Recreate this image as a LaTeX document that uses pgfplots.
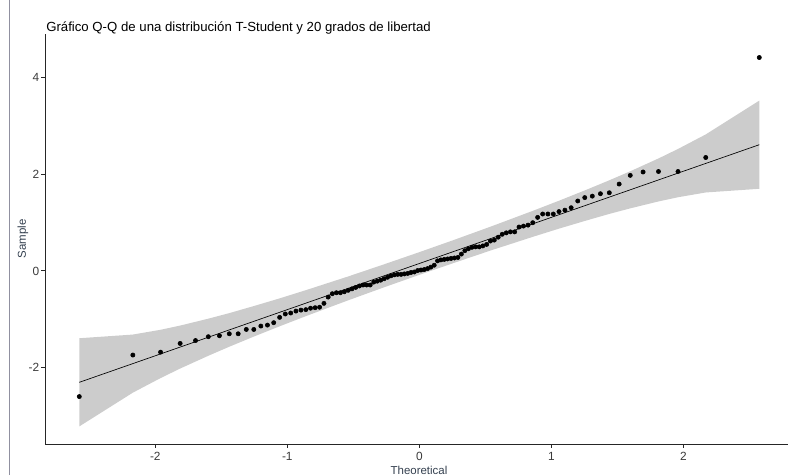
\documentclass[border=0pt]{standalone}
\usepackage{fontspec}
\setmainfont{Liberation Sans}
\usepackage{pgfplots}
\pgfplotsset{compat=1.18}
\usepackage{pgfplotstable}
\usepgfplotslibrary{fillbetween}
\definecolor{bandgray}{HTML}{CCCCCC}
\definecolor{ticktext}{HTML}{3A3A3A}
\definecolor{titletext}{HTML}{34404F}
\definecolor{edgeline}{HTML}{9090A0}

% sample quantiles against theoretical normal quantiles (n = 100)
\pgfplotstableread{
q y
-2.5758 -2.60
-2.1701 -1.74
-1.9600 -1.68
-1.8119 -1.50
-1.6954 -1.44
-1.5982 -1.36
-1.5141 -1.34
-1.4395 -1.30
-1.3722 -1.30
-1.3106 -1.21
-1.2536 -1.21
-1.2004 -1.14
-1.1503 -1.12
-1.1031 -1.07
-1.0581 -0.96
-1.0152 -0.89
-0.9741 -0.87
-0.9346 -0.83
-0.8965 -0.81
-0.8596 -0.80
-0.8239 -0.77
-0.7892 -0.76
-0.7554 -0.75
-0.7225 -0.67
-0.6903 -0.54
-0.6588 -0.47
-0.6280 -0.45
-0.5978 -0.45
-0.5681 -0.43
-0.5388 -0.40
-0.5101 -0.37
-0.4817 -0.34
-0.4538 -0.31
-0.4261 -0.29
-0.3989 -0.29
-0.3719 -0.29
-0.3451 -0.23
-0.3186 -0.21
-0.2924 -0.19
-0.2663 -0.16
-0.2404 -0.13
-0.2147 -0.10
-0.1891 -0.08
-0.1637 -0.07
-0.1383 -0.07
-0.1130 -0.06
-0.0878 -0.05
-0.0627 -0.03
-0.0376 -0.02
-0.0125 0.01
0.0125 0.02
0.0376 0.03
0.0627 0.05
0.0878 0.08
0.1130 0.12
0.1383 0.21
0.1637 0.23
0.1891 0.24
0.2147 0.25
0.2404 0.26
0.2663 0.27
0.2924 0.28
0.3186 0.35
0.3451 0.42
0.3719 0.46
0.3989 0.49
0.4261 0.50
0.4538 0.50
0.4817 0.52
0.5101 0.55
0.5388 0.62
0.5681 0.64
0.5978 0.70
0.6280 0.76
0.6588 0.79
0.6903 0.81
0.7225 0.81
0.7554 0.91
0.7892 0.93
0.8239 0.95
0.8596 1.00
0.8965 1.11
0.9346 1.18
0.9741 1.18
1.0152 1.18
1.0581 1.23
1.1031 1.26
1.1503 1.31
1.2004 1.45
1.2536 1.52
1.3106 1.55
1.3722 1.60
1.4395 1.62
1.5141 1.80
1.5982 1.98
1.6954 2.05
1.8119 2.06
1.9600 2.06
2.1701 2.35
2.5758 4.42
}\qqdata

% confidence band around the reference line
\pgfplotstableread{
q lo up
-2.5758 -3.218 -1.392
-2.1701 -2.519 -1.316
-1.9600 -2.217 -1.217
-1.8119 -2.020 -1.130
-1.5982 -1.755 -0.987
-1.4395 -1.568 -0.872
-1.2536 -1.358 -0.726
-1.0581 -1.145 -0.567
-0.8596 -0.935 -0.397
-0.5388 -0.607 -0.113
-0.2663 -0.337 0.139
-0.0125 -0.092 0.378
0.0125 -0.068 0.402
0.2663 0.171 0.647
0.5388 0.423 0.917
0.8596 0.707 1.245
1.0581 0.877 1.455
1.2536 1.036 1.668
1.4395 1.182 1.878
1.5982 1.297 2.065
1.8119 1.440 2.330
1.9600 1.527 2.527
2.1701 1.626 2.828
2.5758 1.702 3.528
}\band

\begin{document}
\begin{tikzpicture}
\draw[edgeline, line width=0.75pt] (-26.25pt,-23.25pt) -- (-26.25pt,333pt);
\begin{axis}[
    at={(0,0)}, anchor=south west,
    scale only axis,
    width=557.25pt, height=307.5pt,
    xmin=-2.8356, xmax=2.7932,
    ymin=-3.582, ymax=4.907,
    axis x line=bottom, axis y line=left,
    axis line style={-, black!85, line width=0.75pt},
    tick align=outside,
    major tick length=2.75pt,
    tick style={black!85, line width=0.75pt},
    xtick={-2,-1,0,1,2}, xticklabels={-2,-1,0,1,2},
    ytick={-2,0,2,4}, yticklabels={-2,0,2,4},
    tick label style={font=\fontsize{8.9}{10}\selectfont, text=ticktext, inner sep=0pt},
    xticklabel style={anchor=north, yshift=-3pt},
    yticklabel style={anchor=east, xshift=-1.4pt},
    clip=false,
]
\addplot[name path=up, draw=none, forget plot] table[x=q, y=up] {\band};
\addplot[name path=lo, draw=none, forget plot] table[x=q, y=lo] {\band};
\addplot[bandgray, draw=none] fill between[of=up and lo];
\addplot[black, line width=0.5pt] coordinates {(-2.5758,-2.3049) (2.5758,2.6149)};
\addplot[only marks, mark=*, mark size=1.6pt, black] table[x=q, y=y] {\qqdata};
\end{axis}
\node[anchor=base west, inner sep=0pt, font=\fontsize{9.9}{12}\selectfont] at (0.75pt,309.2pt)
    {Gráfico Q-Q de una distribución T-Student y 20 grados de libertad};
\node[anchor=base, inner sep=0pt, font=\fontsize{8.6}{10}\selectfont, text=titletext] at (280.5pt,-22.9pt) {Theoretical};
\node[anchor=center, rotate=90, inner sep=0pt, font=\fontsize{8.6}{10}\selectfont, text=titletext] at (-16.5pt,154pt) {Sample};
\pgfresetboundingbox
\path[use as bounding box] (-33.75pt,-23.25pt) rectangle (557.25pt,333pt);
\end{tikzpicture}
\end{document}
